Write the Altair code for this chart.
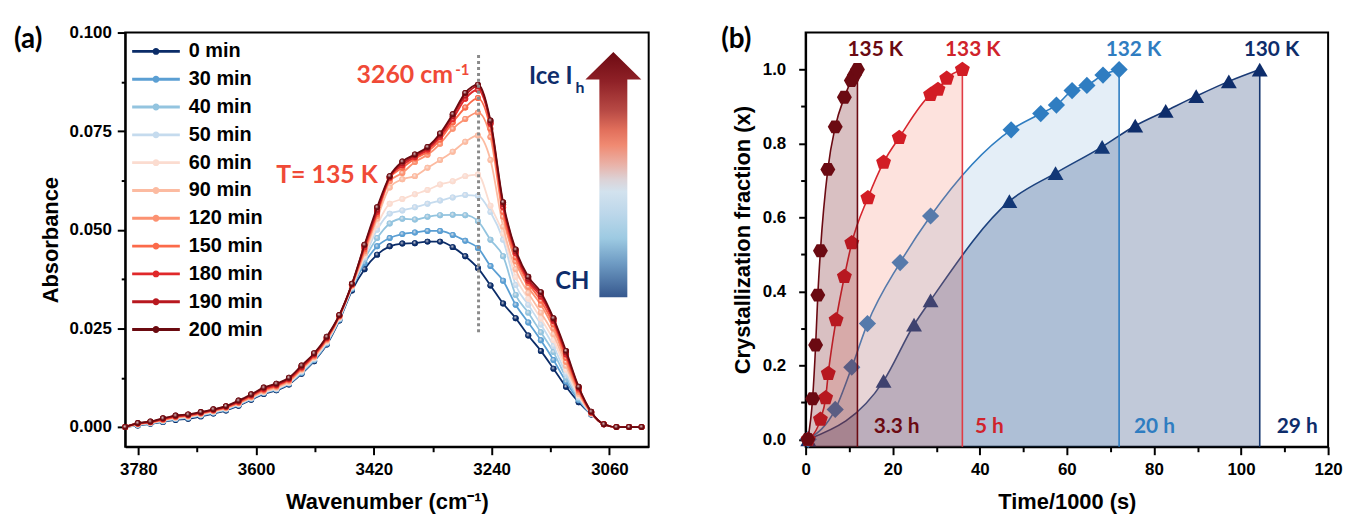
import altair as alt
import pandas as pd

# ---------------- (a) FTIR spectra ----------------
wavenumber = [3800.0, 3780.8, 3761.5, 3742.3, 3723.0, 3703.8, 3684.5, 3665.3, 3646.0, 3626.8,
              3607.5, 3588.3, 3569.0, 3549.8, 3530.5, 3511.3, 3492.0, 3472.8, 3453.5, 3434.3,
              3415.0, 3395.8, 3376.5, 3357.3, 3338.0, 3318.8, 3299.5, 3280.3, 3261.0, 3241.8,
              3222.5, 3203.3, 3184.0, 3164.8, 3145.5, 3126.3, 3107.0, 3087.8, 3068.5, 3049.3,
              3030.0, 3010.8]

abs_0min = [0.0000, 0.0004, 0.0008, 0.0013, 0.0018, 0.0021, 0.0027, 0.0034, 0.0042, 0.0054,
            0.0069, 0.0084, 0.0093, 0.0108, 0.0135, 0.0167, 0.0209, 0.0270, 0.0346, 0.0400,
            0.0437, 0.0458, 0.0465, 0.0466, 0.0470, 0.0470, 0.0456, 0.0433, 0.0403, 0.0359,
            0.0313, 0.0276, 0.0232, 0.0193, 0.0148, 0.0102, 0.0063, 0.0032, 0.0007, 0.0000,
            0.0000, 0.0000]
abs_30min = [0.0000, 0.0005, 0.0009, 0.0014, 0.0020, 0.0023, 0.0029, 0.0036, 0.0044, 0.0056,
             0.0071, 0.0086, 0.0095, 0.0110, 0.0137, 0.0169, 0.0211, 0.0272, 0.0350, 0.0415,
             0.0458, 0.0479, 0.0489, 0.0493, 0.0497, 0.0497, 0.0487, 0.0472, 0.0454, 0.0408,
             0.0371, 0.0310, 0.0265, 0.0220, 0.0170, 0.0115, 0.0068, 0.0033, 0.0007, 0.0000,
             0.0000, 0.0000]
abs_40min = [0.0000, 0.0006, 0.0010, 0.0015, 0.0021, 0.0024, 0.0030, 0.0037, 0.0045, 0.0057,
             0.0072, 0.0087, 0.0096, 0.0111, 0.0139, 0.0171, 0.0213, 0.0274, 0.0352, 0.0425,
             0.0479, 0.0516, 0.0528, 0.0526, 0.0533, 0.0537, 0.0538, 0.0537, 0.0522, 0.0475,
             0.0433, 0.0335, 0.0290, 0.0240, 0.0190, 0.0125, 0.0072, 0.0033, 0.0007, 0.0000,
             0.0000, 0.0000]
abs_50min = [0.0000, 0.0006, 0.0010, 0.0016, 0.0022, 0.0025, 0.0031, 0.0038, 0.0046, 0.0058,
             0.0073, 0.0088, 0.0097, 0.0112, 0.0141, 0.0173, 0.0215, 0.0275, 0.0354, 0.0430,
             0.0500, 0.0541, 0.0549, 0.0557, 0.0566, 0.0574, 0.0582, 0.0588, 0.0586, 0.0545,
             0.0475, 0.0360, 0.0310, 0.0260, 0.0205, 0.0135, 0.0076, 0.0034, 0.0007, 0.0000,
             0.0000, 0.0000]
abs_60min = [0.0000, 0.0007, 0.0011, 0.0017, 0.0023, 0.0026, 0.0032, 0.0039, 0.0047, 0.0059,
             0.0074, 0.0089, 0.0098, 0.0113, 0.0143, 0.0175, 0.0217, 0.0277, 0.0356, 0.0435,
             0.0512, 0.0566, 0.0578, 0.0590, 0.0601, 0.0615, 0.0623, 0.0636, 0.0640, 0.0561,
             0.0490, 0.0380, 0.0325, 0.0275, 0.0220, 0.0145, 0.0080, 0.0034, 0.0007, 0.0000,
             0.0000, 0.0000]
abs_90min = [0.0000, 0.0007, 0.0011, 0.0017, 0.0024, 0.0027, 0.0033, 0.0040, 0.0048, 0.0060,
             0.0075, 0.0090, 0.0100, 0.0115, 0.0145, 0.0177, 0.0219, 0.0278, 0.0358, 0.0440,
             0.0528, 0.0607, 0.0628, 0.0636, 0.0657, 0.0677, 0.0698, 0.0723, 0.0739, 0.0677,
             0.0508, 0.0400, 0.0340, 0.0290, 0.0235, 0.0155, 0.0084, 0.0035, 0.0007, 0.0000,
             0.0000, 0.0000]
abs_120min = [0.0000, 0.0008, 0.0012, 0.0018, 0.0025, 0.0028, 0.0034, 0.0041, 0.0049, 0.0061,
              0.0076, 0.0092, 0.0102, 0.0117, 0.0147, 0.0179, 0.0221, 0.0280, 0.0359, 0.0445,
              0.0535, 0.0623, 0.0644, 0.0672, 0.0690, 0.0718, 0.0756, 0.0781, 0.0797, 0.0735,
              0.0533, 0.0420, 0.0355, 0.0310, 0.0250, 0.0165, 0.0089, 0.0035, 0.0007, 0.0000,
              0.0000, 0.0000]
abs_150min = [0.0000, 0.0008, 0.0012, 0.0019, 0.0026, 0.0029, 0.0035, 0.0042, 0.0050, 0.0062,
              0.0078, 0.0094, 0.0104, 0.0119, 0.0149, 0.0181, 0.0223, 0.0281, 0.0360, 0.0450,
              0.0540, 0.0630, 0.0657, 0.0680, 0.0698, 0.0728, 0.0772, 0.0810, 0.0834, 0.0756,
              0.0545, 0.0430, 0.0365, 0.0320, 0.0260, 0.0175, 0.0093, 0.0036, 0.0007, 0.0000,
              0.0000, 0.0000]
abs_180min = [0.0000, 0.0009, 0.0013, 0.0020, 0.0027, 0.0030, 0.0036, 0.0043, 0.0051, 0.0064,
              0.0080, 0.0096, 0.0106, 0.0121, 0.0151, 0.0183, 0.0225, 0.0282, 0.0361, 0.0455,
              0.0545, 0.0632, 0.0663, 0.0684, 0.0703, 0.0735, 0.0780, 0.0832, 0.0855, 0.0768,
              0.0557, 0.0440, 0.0370, 0.0330, 0.0268, 0.0183, 0.0097, 0.0037, 0.0007, 0.0000,
              0.0000, 0.0000]
abs_190min = [0.0000, 0.0009, 0.0013, 0.0021, 0.0028, 0.0031, 0.0037, 0.0044, 0.0052, 0.0065,
              0.0081, 0.0098, 0.0108, 0.0123, 0.0153, 0.0185, 0.0227, 0.0283, 0.0362, 0.0460,
              0.0550, 0.0634, 0.0668, 0.0688, 0.0707, 0.0740, 0.0788, 0.0840, 0.0864, 0.0772,
              0.0565, 0.0445, 0.0375, 0.0336, 0.0272, 0.0188, 0.0100, 0.0038, 0.0007, 0.0000,
              0.0000, 0.0000]
abs_200min = [0.0000, 0.0010, 0.0014, 0.0022, 0.0029, 0.0032, 0.0038, 0.0045, 0.0053, 0.0067,
              0.0083, 0.0100, 0.0110, 0.0125, 0.0156, 0.0187, 0.0229, 0.0284, 0.0363, 0.0462,
              0.0557, 0.0636, 0.0673, 0.0691, 0.0710, 0.0744, 0.0793, 0.0847, 0.0868, 0.0777,
              0.0570, 0.0450, 0.0381, 0.0342, 0.0276, 0.0193, 0.0102, 0.0039, 0.0007, 0.0000,
              0.0000, 0.0000]

series_names = ["0 min", "30 min", "40 min", "50 min", "60 min", "90 min",
                "120 min", "150 min", "180 min", "190 min", "200 min"]
series_colors = ["#0b2c68", "#5b9fd3", "#93c4df", "#c5dbee", "#fbdcd0", "#fcbba1",
                 "#fc9272", "#fb6a4a", "#e0282a", "#b8181f", "#6b0a10"]
spectra = [abs_0min, abs_30min, abs_40min, abs_50min, abs_60min, abs_90min,
           abs_120min, abs_150min, abs_180min, abs_190min, abs_200min]

xa_ticks = [3780, 3690, 3600, 3510, 3420, 3330, 3240, 3150, 3060]
ya_ticks = [0.0, 0.0125, 0.025, 0.0375, 0.05, 0.0625, 0.075, 0.0875, 0.1]

# ---------------- (b) crystallization kinetics ----------------
t_130K = [0.6, 17.9, 24.9, 28.7, 46.8, 57.4, 68.1, 75.7, 82.7, 89.7, 97.2, 104.3]
x_130K = [0.0, 0.158, 0.310, 0.376, 0.644, 0.720, 0.791, 0.848, 0.888, 0.928, 0.968, 1.0]
t_132K = [0.6, 6.8, 10.6, 14.2, 21.7, 28.7, 47.2, 54.0, 57.6, 61.2, 64.6, 68.3, 72.0]
x_132K = [0.0, 0.081, 0.195, 0.313, 0.478, 0.604, 0.837, 0.881, 0.904, 0.943, 0.957, 0.985, 1.0]
t_133K = [0.6, 3.4, 4.6, 5.2, 7.0, 8.9, 10.6, 14.3, 17.9, 21.5, 28.7, 30.4, 32.4, 36.0]
x_133K = [0.0, 0.054, 0.112, 0.178, 0.323, 0.440, 0.531, 0.653, 0.749, 0.816, 0.932, 0.946, 0.976, 1.0]
t_135K = [0.5, 1.6, 2.3, 2.8, 3.4, 5.1, 6.8, 8.9, 10.5, 11.2, 11.9]
x_135K = [0.0, 0.110, 0.255, 0.390, 0.510, 0.730, 0.845, 0.925, 0.970, 0.985, 1.0]

temps = ["130 K", "132 K", "133 K", "135 K"]
durations = ["29 h", "20 h", "5 h", "3.3 h"]
xb_ticks = [0, 10, 20, 30, 40, 50, 60, 70, 80, 90, 100, 110, 120]
yb_ticks = [0.0, 0.1, 0.2, 0.3, 0.4, 0.5, 0.6, 0.7, 0.8, 0.9, 1.0]

# ---------------- styling ----------------
AX_FONT = "Liberation Sans"
ANN_FONT = "Lato"
PLOT_H = 417

spec_rows = []
for name, vals in zip(series_names, spectra):
    for w, a in zip(wavenumber, vals):
        spec_rows.append({"wn": w, "A": a, "series": name})
spec_df = pd.DataFrame(spec_rows)

xa = alt.X("wn:Q", title="Wavenumber (cm⁻¹)",
           scale=alt.Scale(domain=[3000, 3800], reverse=True, nice=False, zero=False),
           axis=alt.Axis(values=xa_ticks, format="d",
                         labelExpr="(3780 - datum.value) % 180 == 0 ? datum.label : ''",
                         tickSize={"condition": {"test": "(3780 - datum.value) % 180 != 0", "value": 5}, "value": 8},
                         labelPadding=7, titlePadding=14, labelFlush=False, labelOverlap=False))
ya = alt.Y("A:Q", title="Absorbance",
           scale=alt.Scale(domain=[-0.005, 0.1], nice=False, zero=False),
           axis=alt.Axis(values=ya_ticks, format=".3f",
                         labelExpr="round(datum.value * 10000) % 250 == 0 ? datum.label : ''",
                         tickSize={"condition": {"test": "round(datum.value * 10000) % 250 != 0", "value": 4}, "value": 8},
                         labelPadding=6, titlePadding=7, labelFlush=False, labelOverlap=False))

# legend glyph: line segment with a dot (unit = 8 px)
LEG_PATH = ("M-1,-0.18L5,-0.18L5,0.18L-1,0.18Z"
            "M2.43,0A0.43,0.43 0 1,1 1.57,0A0.43,0.43 0 1,1 2.43,0Z")

legend_a = alt.Legend(title=None, orient="none", legendX=5, legendY=9, padding=0,
                      symbolType=LEG_PATH, symbolSize=256, symbolStrokeWidth=0, symbolOpacity=1,
                      labelFont=AX_FONT, labelFontSize=20, labelFontWeight="bold", labelColor="black",
                      labelOffset=39, rowPadding=8)

color_scale = alt.Scale(domain=series_names, range=series_colors)


def ball(c):
    return {"gradient": "radial", "x1": 0.38, "y1": 0.34, "r1": 0,
            "x2": 0.5, "y2": 0.5, "r2": 0.55,
            "stops": [{"offset": 0, "color": "#f6eeee"},
                      {"offset": 0.55, "color": c},
                      {"offset": 1, "color": c}]}


layers_a = [
    alt.Chart(spec_df).mark_point(filled=True, opacity=1, size=36, strokeWidth=0).encode(
        x=xa, y=ya, color=alt.Color("series:N", scale=color_scale, legend=legend_a))
]
for name, col in zip(series_names, series_colors):
    base = alt.Chart(spec_df).transform_filter(alt.datum.series == name)
    layers_a.append(base.mark_line(color=col, strokeWidth=1.8, interpolate="monotone").encode(x=xa, y=ya))
    layers_a.append(base.mark_point(filled=True, fill=ball(col), opacity=1, size=36,
                                    strokeWidth=0).encode(x=xa, y=ya))

# dotted marker line at 3260 cm-1
peak_df = pd.DataFrame({"wn": [3260.0], "A": [0.0943], "A2": [0.0238]})
layers_a.append(alt.Chart(peak_df).mark_rule(color="#8a8a8a", strokeWidth=3, strokeDash=[3, 3]).encode(
    x=xa, y=ya, y2="A2:Q"))

# gradient arrow
ARROW = "M0,-1L0.228,-0.774L0.114,-0.774L0.114,1L-0.114,1L-0.114,-0.774L-0.228,-0.774Z"
arrow_grad = {"gradient": "linear", "x1": 0, "y1": 0, "x2": 0, "y2": 1,
              "stops": [{"offset": 0.0, "color": "#6d0a12"},
                        {"offset": 0.12, "color": "#8f2127"},
                        {"offset": 0.24, "color": "#b84a45"},
                        {"offset": 0.32, "color": "#e2705c"},
                        {"offset": 0.38, "color": "#f08a72"},
                        {"offset": 0.46, "color": "#e9b2a8"},
                        {"offset": 0.52, "color": "#dcd2d6"},
                        {"offset": 0.57, "color": "#d2e2ee"},
                        {"offset": 0.66, "color": "#bcd7ea"},
                        {"offset": 0.76, "color": "#9dcae2"},
                        {"offset": 0.86, "color": "#6f9cc4"},
                        {"offset": 1.0, "color": "#36588e"}]}
arrow_df = pd.DataFrame({"wn": [3054.0], "A": [0.064]})
layers_a.append(alt.Chart(arrow_df).mark_point(shape=ARROW, size=61000, filled=True, fill=arrow_grad,
                                               opacity=1, strokeWidth=0).encode(x=xa, y=ya))

# annotations
red_txt = pd.DataFrame({"wn": [3446.4, 3569.3], "A": [0.0891, 0.0640], "label": ["3260 cm", "T= 135 K"]})
layers_a.append(alt.Chart(red_txt).mark_text(align="left", baseline="middle", font=ANN_FONT, fontWeight="bold",
                                             fontSize=25, color="#f04a37").encode(x=xa, y=ya, text="label:N"))
sup_txt = pd.DataFrame({"wn": [3295.5], "A": [0.0906], "label": ["-1"]})
layers_a.append(alt.Chart(sup_txt).mark_text(align="left", baseline="middle", font=ANN_FONT, fontWeight="bold",
                                             fontSize=15, color="#f04a37").encode(x=xa, y=ya, text="label:N"))
navy_txt = pd.DataFrame({"wn": [3182.9, 3142.9], "A": [0.0888, 0.0367], "label": ["Ice I", "CH"]})
layers_a.append(alt.Chart(navy_txt).mark_text(align="left", baseline="middle", font=ANN_FONT, fontWeight="bold",
                                              fontSize=24, color="#0e2d6b").encode(x=xa, y=ya, text="label:N"))
sub_txt = pd.DataFrame({"wn": [3112.0], "A": [0.0860], "label": ["h"]})
layers_a.append(alt.Chart(sub_txt).mark_text(align="left", baseline="middle", font=ANN_FONT, fontWeight="bold",
                                             fontSize=16, color="#0e2d6b").encode(x=xa, y=ya, text="label:N"))
layers_a.append(alt.Chart(pd.DataFrame({"label": ["(a)"]})).mark_text(
    align="left", baseline="middle", font=ANN_FONT, fontWeight="bold", fontSize=28, color="black").encode(
    x=alt.value(-112), y=alt.value(8), text="label:N"))

panel_a = alt.layer(*layers_a).properties(width=527, height=PLOT_H)

# ---------------- panel (b) ----------------
xb = alt.X("t:Q", title="Time/1000 (s)",
           scale=alt.Scale(domain=[0, 120], nice=False, zero=False),
           axis=alt.Axis(values=xb_ticks, format="d",
                         labelExpr="datum.value % 20 == 0 ? datum.label : ''",
                         tickSize={"condition": {"test": "datum.value % 20 != 0", "value": 5}, "value": 8},
                         labelPadding=7, titlePadding=14, labelFlush=False, labelOverlap=False))
yb = alt.Y("x:Q", title="Crystallization fraction (x)",
           scale=alt.Scale(domain=[-0.02, 1.1], nice=False, zero=False),
           axis=alt.Axis(values=yb_ticks, format=".1f",
                         labelExpr="round(datum.value * 10) % 2 == 0 ? datum.label : ''",
                         tickSize={"condition": {"test": "round(datum.value * 10) % 2 != 0", "value": 5}, "value": 7},
                         labelPadding=13, titlePadding=8, labelFlush=False, labelOverlap=False))

HEX = "M-1,0L-0.5,-0.866L0.5,-0.866L1,0L0.5,0.866L-0.5,0.866Z"
PENT = "M0,-1L0.951,-0.309L0.588,0.809L-0.588,0.809L-0.951,-0.309Z"

kin = [
    (t_130K, x_130K, "#1a3a75", "#0e2d6b", 0.26, "triangle-up", 256, "#0e2d6b", "#16366f"),
    (t_132K, x_132K, "#2f7dc1", "#2f7dc1", 0.13, "diamond", 300, "#2f7dc1", "#2f7dc1"),
    (t_133K, x_133K, "#d7262e", "#f56e55", 0.20, PENT, 250, "#d21d25", "#e03b45"),
    (t_135K, x_135K, "#6b0a12", "#6b0a12", 0.26, HEX, 225, "#6b0a12", "#6b0a12"),
]
label_t = [107.0, 75.3, 38.4, 16.0]
hour_t = [112.9, 80.1, 42.2, 20.9]

layers_b = []
for i, (tt, xx, lc, fc, fo, shp, sz, mc, rc) in enumerate(kin):
    df = pd.DataFrame({"t": tt, "x": xx})
    end = pd.DataFrame({"t": [tt[-1]], "x": [xx[-1]]})
    layers_b.append(alt.Chart(df).mark_area(color=fc, opacity=fo, interpolate="monotone").encode(
        x=xb, y=yb, y2=alt.datum(-0.02)))
    layers_b.append(alt.Chart(df).mark_line(color=lc, strokeWidth=1.6, interpolate="monotone").encode(x=xb, y=yb))
    layers_b.append(alt.Chart(end).mark_rule(color=rc, strokeWidth=1.6).encode(x=xb, y=yb, y2=alt.datum(-0.02)))
    layers_b.append(alt.Chart(df).mark_point(shape=shp, size=sz, filled=True, color=mc, opacity=1,
                                             strokeWidth=0).encode(x=xb, y=yb))

label_cols = ["#0e2d6b", "#2f7dc1", "#d0232b", "#6b0a12"]
for i in range(4):
    tdf = pd.DataFrame({"t": [label_t[i], hour_t[i]], "x": [1.052, 0.033], "label": [temps[i], durations[i]]})
    layers_b.append(alt.Chart(tdf).mark_text(align="center", baseline="middle", font=ANN_FONT, fontWeight="bold",
                                             fontSize=21, color=label_cols[i]).encode(x=xb, y=yb, text="label:N"))
layers_b.append(alt.Chart(pd.DataFrame({"label": ["(b)"]})).mark_text(
    align="left", baseline="middle", font=ANN_FONT, fontWeight="bold", fontSize=28, color="black").encode(
    x=alt.value(-85), y=alt.value(8), text="label:N"))

panel_b = alt.layer(*layers_b).properties(width=526, height=PLOT_H)

chart = alt.hconcat(panel_a, panel_b, spacing=158, bounds="flush").resolve_scale(
    color="independent").properties(
    padding={"left": 5, "top": 13, "right": 0, "bottom": 0}
).configure_view(stroke="black", strokeWidth=2).configure_axis(
    grid=False, domainColor="black", domainWidth=2, tickColor="black", tickWidth=2,
    labelFont=AX_FONT, labelFontWeight="bold", labelFontSize=17, labelColor="black",
    titleFont=AX_FONT, titleFontWeight="bold", titleFontSize=22, titleColor="black")

chart.save("out.html", embed_options={"renderer": "svg", "actions": False})
